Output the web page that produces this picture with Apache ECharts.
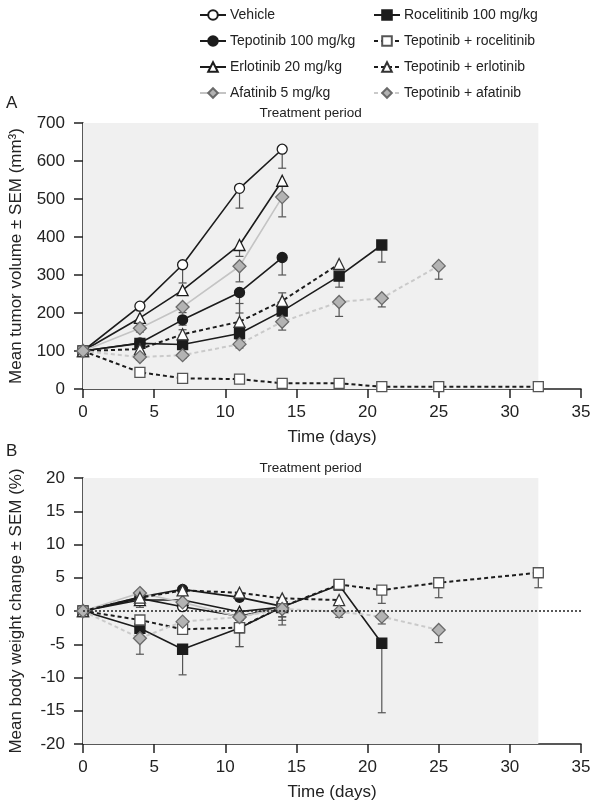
<!DOCTYPE html>
<html>
<head>
<meta charset="utf-8">
<script src="https://cdn.jsdelivr.net/npm/echarts@6/dist/echarts.min.js"></script>
<style>
html,body{margin:0;padding:0;background:#fff;}
#chart{width:600px;height:808px;}
</style>
</head>
<body>
<div id="chart"></div>
<script>
// ---------- Data ----------
const seriesNames = ['Vehicle','Tepotinib 100 mg/kg','Erlotinib 20 mg/kg','Afatinib 5 mg/kg',
  'Rocelitinib 100 mg/kg','Tepotinib + rocelitinib','Tepotinib + erlotinib','Tepotinib + afatinib'];

const vehicleDays = [0,4,7,11,14];
const tepDays     = [0,4,7,11,14];
const erlDays     = [0,4,7,11,14];
const afaDays     = [0,4,7,11,14];
const rocDays     = [0,4,7,11,14,18,21];
const tepRocDays  = [0,4,7,11,14,18,21,25,32];
const tepErlDays  = [0,4,7,11,14,18];
const tepAfaDays  = [0,4,7,11,14,18,21,25];

// Panel A: mean tumor volume (mm3) and signed SEM (negative = bar drawn downward)
const vehicleVol = [100,218,327,528,631];
const tepVol     = [100,121,182,254,346];
const erlVol     = [100,187,260,379,548];
const afaVol     = [100,160,216,323,505];
const rocVol     = [100,120,117,146,205,297,379];
const tepRocVol  = [100,44,28,26,15,15,6,6,6];
const tepErlVol  = [100,105,144,177,232,329];
const tepAfaVol  = [100,84,89,118,177,229,239,324];

const vehicleVolErr = [0,-12,-48,-52,-50];
const tepVolErr     = [0,-10,-14,-54,-46];
const erlVolErr     = [0,-10,-13,-30,-40];
const afaVolErr     = [0,-10,-15,-41,-52];
const rocVolErr     = [0,-12,-10,-15,-25,-29,-45];
const tepRocVolErr  = [0,-6,-5,-5,-4,-4,-2,-2,-2];
const tepErlVolErr  = [0,-10,12,48,21,-10];
const tepAfaVolErr  = [0,-8,-8,-10,-22,-38,-23,-35];

// Panel B: mean body weight change (%) and signed SEM
const vehicleBW = [0,1.9,0.65,-0.8,0.6];
const tepBW     = [0,2.1,3.25,2.05,0.7];
const erlBW     = [0,1.65,1.65,-0.1,0.6];
const afaBW     = [0,2.7,1.3,-0.9,0.5];
const rocBW     = [0,-2.6,-5.75,-2.55,0.6,3.9,-4.85];
const tepRocBW  = [0,-1.35,-2.75,-2.5,0.65,4.0,3.15,4.25,5.75];
const tepErlBW  = [0,2.0,3.1,2.75,1.9,1.65];
const tepAfaBW  = [0,-4.1,-1.6,-0.9,0.3,-0.1,-0.85,-2.85];

const vehicleBWErr = [0,-0.5,-0.5,-0.5,-2.7];
const tepBWErr     = [0,-0.5,-0.5,-0.5,-2.1];
const erlBWErr     = [0,-1.1,-0.5,-0.5,-1.5];
const afaBWErr     = [0,-0.5,-0.5,-0.5,-0.5];
const rocBWErr     = [0,-0.5,-3.85,-2.8,-0.5,-0.3,-10.45];
const tepRocBWErr  = [0,-0.5,-0.5,-2.85,-1.5,-0.3,-2.0,-2.25,-2.25];
const tepErlBWErr  = [0,-0.4,-0.4,-0.4,-0.4,-0.3];
const tepAfaBWErr  = [0,-2.4,-0.5,-0.5,-0.5,-0.85,-1.1,-1.9];

const treatmentEnd = 32;

// ---------- Styles ----------
const BLACK = '#1c1c1c';
const GRAYFILL = '#b3b3b3';
const GRAYEDGE = '#6a6a6a';
const styles = {
  'Vehicle':               {symbol:'circle',  size:10, fill:'#ffffff', edge:BLACK, line:BLACK, type:'solid', w:1.6},
  'Tepotinib 100 mg/kg':   {symbol:'circle',  size:10, fill:BLACK, edge:BLACK, line:BLACK, type:'solid', w:1.6},
  'Erlotinib 20 mg/kg':    {symbol:'triangle',size:11, fill:'#ffffff', edge:BLACK, line:BLACK, type:'solid', w:1.6},
  'Afatinib 5 mg/kg':      {symbol:'diamond', size:13, fill:GRAYFILL, edge:GRAYEDGE, line:'#c4c4c4', type:'solid', w:1.6},
  'Rocelitinib 100 mg/kg': {symbol:'rect',    size:10, fill:BLACK, edge:BLACK, line:BLACK, type:'solid', w:1.6},
  'Tepotinib + rocelitinib':{symbol:'rect',   size:10, fill:'#ffffff', edge:'#555555', line:BLACK, type:[4,3], w:2},
  'Tepotinib + erlotinib': {symbol:'triangle',size:11, fill:'#ffffff', edge:'#333333', line:BLACK, type:[4,3], w:2},
  'Tepotinib + afatinib':  {symbol:'diamond', size:13, fill:GRAYFILL, edge:GRAYEDGE, line:'#cacaca', type:[4,3], w:2}
};

const panelA = [
  [vehicleDays, vehicleVol, vehicleVolErr],
  [tepDays, tepVol, tepVolErr],
  [erlDays, erlVol, erlVolErr],
  [afaDays, afaVol, afaVolErr],
  [rocDays, rocVol, rocVolErr],
  [tepRocDays, tepRocVol, tepRocVolErr],
  [tepErlDays, tepErlVol, tepErlVolErr],
  [tepAfaDays, tepAfaVol, tepAfaVolErr]
];
const panelB = [
  [vehicleDays, vehicleBW, vehicleBWErr],
  [tepDays, tepBW, tepBWErr],
  [erlDays, erlBW, erlBWErr],
  [afaDays, afaBW, afaBWErr],
  [rocDays, rocBW, rocBWErr],
  [tepRocDays, tepRocBW, tepRocBWErr],
  [tepErlDays, tepErlBW, tepErlBWErr],
  [tepAfaDays, tepAfaBW, tepAfaBWErr]
];

function zip(days, vals){ return days.map((d,i)=>[d, vals[i]]); }
function errData(panel){
  const out = [];
  panel.forEach(([d,v,e])=>{ d.forEach((x,i)=>{ if(e[i]!==0) out.push([x, v[i], e[i]]); }); });
  return out;
}

const FONT = '"Liberation Sans", Arial, sans-serif';

function lineSeries(name, data, idx){
  const s = styles[name];
  return {
    name, type:'line', xAxisIndex:idx, yAxisIndex:idx, data,
    symbol:s.symbol, symbolSize:s.size, showSymbol:true, showAllSymbol:true,
    z:3, animation:false,
    lineStyle:{color:s.line, width:s.w, type:s.type},
    itemStyle:{color:s.fill, borderColor:s.edge, borderWidth:1.3},
    emphasis:{disabled:true}
  };
}

function errSeries(data, idx){
  return {
    type:'custom', xAxisIndex:idx, yAxisIndex:idx, data, z:2, silent:true, animation:false,
    encode:{x:0, y:1},
    renderItem(params, api){
      const x = api.value(0), y = api.value(1), e = api.value(2);
      const p0 = api.coord([x, y]);
      const p1 = api.coord([x, y + e]);
      const hw = 4;
      const st = {stroke:'#555555', lineWidth:1.2};
      return {type:'group', children:[
        {type:'line', shape:{x1:p0[0], y1:p0[1], x2:p1[0], y2:p1[1]}, style:st},
        {type:'line', shape:{x1:p1[0]-hw, y1:p1[1], x2:p1[0]+hw, y2:p1[1]}, style:st}
      ]};
    }
  };
}

function bgSeries(idx, zeroLine){
  const s = {
    name:'bg'+idx, type:'line', xAxisIndex:idx, yAxisIndex:idx, data:[], z:1, silent:true, animation:false,
    markArea:{
      silent:true,
      itemStyle:{color:'#f0f0f0'},
      label:{show:true, position:'top', distance:3, formatter:'Treatment period',
             fontFamily:FONT, fontSize:13.5, color:'#222'},
      data:[[{xAxis:0},{xAxis:treatmentEnd}]]
    }
  };
  if(zeroLine){
    s.markLine = {silent:true, symbol:'none', animation:false,
      lineStyle:{type:[2,2], color:'#222', width:1.5},
      label:{show:false}, data:[{yAxis:0}]};
  }
  return s;
}

function xAxisCfg(idx){
  return {
    type:'value', gridIndex:idx, min:0, max:35, interval:5,
    name:'Time (days)', nameLocation:'middle', nameGap:40,
    nameTextStyle:{fontFamily:FONT, fontSize:17, color:'#222'},
    axisLine:{show:true, onZero:false, lineStyle:{color:'#222', width:1.5}},
    axisTick:{show:true, length:9, lineStyle:{color:'#222', width:1.5}},
    axisLabel:{fontFamily:FONT, fontSize:17, color:'#222', margin:15},
    splitLine:{show:false}
  };
}
function yAxisCfg(idx, min, max, interval, name){
  return {
    type:'value', gridIndex:idx, min, max, interval,
    name, nameLocation:'middle', nameGap:58,
    nameTextStyle:{fontFamily:FONT, fontSize:17, color:'#222'},
    axisLine:{show:true, onZero:false, lineStyle:{color:'#222', width:1.5}},
    axisTick:{show:true, length:9, lineStyle:{color:'#222', width:1.5}},
    axisLabel:{fontFamily:FONT, fontSize:17, color:'#222', margin:18},
    splitLine:{show:false}
  };
}

const series = [bgSeries(0,false), bgSeries(1,true), errSeries(errData(panelA),0), errSeries(errData(panelB),1)];
seriesNames.forEach((n,i)=>{ series.push(lineSeries(n, zip(panelA[i][0], panelA[i][1]), 0)); });
seriesNames.forEach((n,i)=>{ series.push(lineSeries(n, zip(panelB[i][0], panelB[i][1]), 1)); });

const legendCommon = {
  orient:'vertical', top:3, itemWidth:26, itemHeight:12, itemGap:12,
  textStyle:{fontFamily:FONT, fontSize:14, color:'#222', padding:[0,0,0,-1]}, selectedMode:false
};

const chart = echarts.init(document.getElementById('chart'), null, {renderer:'canvas'});
chart.setOption({
  animation:false,
  backgroundColor:'#ffffff',
  textStyle:{fontFamily:FONT},
  legend:[
    Object.assign({left:194, data:seriesNames.slice(0,4)}, legendCommon),
    Object.assign({left:368, data:seriesNames.slice(4)}, legendCommon)
  ],
  grid:[
    {left:81, right:19, top:123, height:266},
    {left:81, right:19, top:478, height:266}
  ],
  xAxis:[xAxisCfg(0), xAxisCfg(1)],
  yAxis:[
    yAxisCfg(0, 0, 700, 100, 'Mean tumor volume ± SEM (mm³)'),
    yAxisCfg(1, -20, 20, 5, 'Mean body weight change ± SEM (%)')
  ],
  graphic:[
    {type:'text', left:6, top:95, style:{text:'A', fontFamily:FONT, fontSize:17, fill:'#222'}},
    {type:'text', left:6, top:443, style:{text:'B', fontFamily:FONT, fontSize:17, fill:'#222'}}
  ],
  series
});
</script>
</body>
</html>
